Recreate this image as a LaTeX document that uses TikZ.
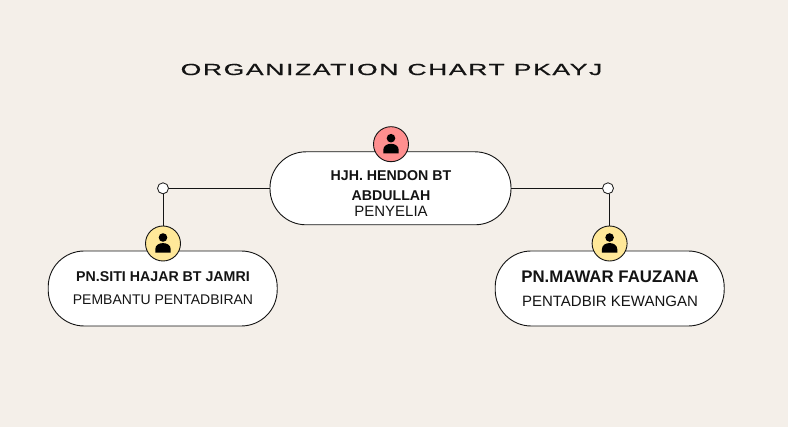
\documentclass[tikz,border=0pt]{standalone}
\usepackage{fontspec}
\setmainfont{Liberation Sans}
\newfontfamily\titlefont[FakeStretch=1.66,LetterSpace=10,FakeBold=0.6]{Liberation Sans}
\usetikzlibrary{calc,positioning}
\definecolor{pagecol}{HTML}{F4EFE9}
\definecolor{redcol}{HTML}{FF8F8F}
\definecolor{yellowcol}{HTML}{FFE899}
\definecolor{inkcol}{HTML}{141414}
\tikzset{
  pill/.style={draw=inkcol,fill=white,line width=.9pt,rounded corners=36pt,minimum width=#1,minimum height=73pt,inner sep=0pt},
  avatar/.style={draw=inkcol,fill=#1,circle,line width=.9pt,minimum size=35pt,inner sep=0pt},
  dot/.style={draw=inkcol,fill=white,circle,line width=.8pt,minimum size=11pt,inner sep=0pt},
  link/.style={draw=inkcol,line width=1pt},
  namelabel/.style={font=\bfseries\fontsize{14.2}{14.2}\selectfont,text=inkcol,inner sep=0pt},
  rolelabel/.style={font=\fontsize{14}{14}\selectfont,text=inkcol,inner sep=0pt}
}
\newcommand{\personicon}[1]{
\fill[black] ($(#1)+(0,-6)$) circle (4.3);
\fill[black] ($(#1)+(-7.7,9.2)$) -- ++(0,-3.4) .. controls ++(0,-4.5) and ++(-3.5,0) .. ++(7.7,-6.2) .. controls ++(3.5,0) and ++(0,-4.5) .. ++(7.7,6.2) -- ++(0,3.4) -- cycle;
}
\begin{document}
\begin{tikzpicture}[x=1pt,y=-1pt]
\useasboundingbox (0,0) rectangle (788,427);
\fill[pagecol] (0,0) rectangle (788,427);
\node[font=\titlefont\fontsize{16}{16}\selectfont,text=inkcol,inner sep=0pt] (title) at (391.5,69.5) {ORGANIZATION CHART PKAYJ};
% boxes
\node[pill=241pt] (boss) at (390.5,188.3) {};
\node[pill=229pt,minimum height=75pt] (adminbox) at (162.7,288.5) {};
\node[pill=229pt,minimum height=75pt] (financebox) at (609.7,288.5) {};
% junctions
\node[dot] (dotL) at (163,188.3) {};
\node[dot] (dotR) at (608,188.3) {};
\node[avatar=redcol] (headA) at (391,144.2) {};
\node[avatar=yellowcol] (adminA) at (163,243.5) {};
\node[avatar=yellowcol] (financeA) at (609.6,243.5) {};
\draw[link] (boss.west) -- (dotL);
\draw[link] (boss.east) -- (dotR);
\draw[link] (dotL) -- (adminA);
\draw[link] (financeA.north |- dotR.south) -- (financeA.north);
\personicon{headA}
\personicon{adminA}
\personicon{financeA}
% labels
\node[namelabel] (bossname1) at (391,176) {HJH. HENDON BT};
\node[namelabel] (bossname2) at (391,196) {ABDULLAH};
\node[rolelabel,font=\fontsize{15}{15}\selectfont] (bossrole) at (391,211) {PENYELIA};
\node[namelabel] (adminname) at (163,277) {PN.SITI HAJAR BT JAMRI};
\node[rolelabel] (adminrole) at (163,300) {PEMBANTU PENTADBIRAN};
\node[namelabel,font=\bfseries\fontsize{16.8}{16.8}\selectfont] (financename) at (610,277) {PN.MAWAR FAUZANA};
\node[rolelabel,font=\fontsize{15}{15}\selectfont] (financerole) at (610,301) {PENTADBIR KEWANGAN};
\end{tikzpicture}
\end{document}
